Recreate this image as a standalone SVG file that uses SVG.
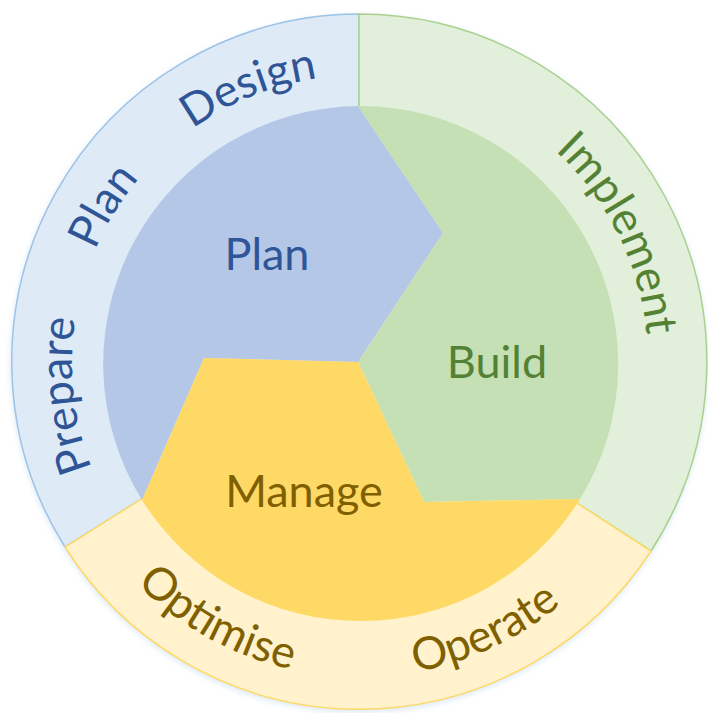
<svg xmlns="http://www.w3.org/2000/svg" width="708" height="713" viewBox="0 0 708 713">
  <style>
    .lbl { font-family: Lato, "Open Sans", "Liberation Sans", sans-serif; font-size: 45px; }
    .tb { fill: #2F5597; }
    .tg { fill: #548235; }
    .ty { fill: #7F6000; }
    .ring-b { fill: #DEEBF7; stroke: #9DC3E6; stroke-width: 1.5; }
    .ring-g { fill: #E2EFDA; stroke: #A9D18E; stroke-width: 1.5; }
    .ring-y { fill: #FFF2CC; stroke: #FFD966; stroke-width: 1.5; }
    .in-b { fill: #B4C7E7; }
    .in-g { fill: #C5E0B4; }
    .in-y { fill: #FFD966; }
  </style>
  <defs>
    <filter id="glow" x="-10%" y="-10%" width="120%" height="120%">
      <feGaussianBlur stdDeviation="3"/>
    </filter>
    <path id="p-prepare" d="M291.8,642.8 A288,288 0 0 1 232.4,104.8"/>
    <path id="p-plan" d="M134.6,542.3 A288,288 0 0 1 417.4,80.8"/>
    <path id="p-design" d="M72.2,373.1 A288,288 0 0 1 574.0,170.3"/>
    <path id="p-implement" d="M327.4,76.8 A288,288 0 0 1 568.9,561.3"/>
    <path id="p-optimise" d="M49.9,313.9 A314,314 0 0 0 566.0,600.0"/>
    <path id="p-operate" d="M138.0,585.0 A314,314 0 0 0 672.8,335.6"/>
  </defs>

  <circle cx="359" cy="364" r="348" fill="#BDD7EE" opacity="0.6" filter="url(#glow)"/>

  <g id="outer-blue">
    <path class="ring-b" d="M359,362 L65,547 A348,348 0 0 1 359,14 Z"/>
  </g>
  <g id="outer-green">
    <path class="ring-g" d="M359,362 L359,14 A348,348 0 0 1 651,551 Z"/>
  </g>
  <g id="outer-yellow">
    <path class="ring-y" d="M359,362 L651,551 A348,348 0 0 1 65,547 Z"/>
  </g>

  <g id="node-plan">
    <path class="in-b" d="M142,500 A258,258 0 0 1 358,106 L443,233 L358,362 L204,358 Z"/>
    <text class="lbl tb" x="267" y="270" text-anchor="middle">Plan</text>
  </g>
  <g id="node-build">
    <path class="in-g" d="M358,106 A258,258 0 0 1 580,499 L424,502 L358,362 L443,233 Z"/>
    <text class="lbl tg" x="497" y="378" text-anchor="middle">Build</text>
  </g>
  <g id="node-manage">
    <path class="in-y" d="M580,499 A258,258 0 0 1 142,500 L204,358 L358,362 L424,502 Z"/>
    <text class="lbl ty" x="304" y="507" text-anchor="middle">Manage</text>
  </g>

  <g id="label-prepare"><text class="lbl tb"><textPath href="#p-prepare" startOffset="50%" text-anchor="middle">Prepare</textPath></text></g>
  <g id="label-plan-outer"><text class="lbl tb"><textPath href="#p-plan" startOffset="50%" text-anchor="middle">Plan</textPath></text></g>
  <g id="label-design"><text class="lbl tb"><textPath href="#p-design" startOffset="50%" text-anchor="middle">Design</textPath></text></g>
  <g id="label-implement"><text class="lbl tg"><textPath href="#p-implement" startOffset="50%" text-anchor="middle">Implement</textPath></text></g>
  <g id="label-optimise"><text class="lbl ty"><textPath href="#p-optimise" startOffset="50%" text-anchor="middle">Optimise</textPath></text></g>
  <g id="label-operate"><text class="lbl ty"><textPath href="#p-operate" startOffset="50%" text-anchor="middle">Operate</textPath></text></g>

  <g id="connectors"/>
</svg>
